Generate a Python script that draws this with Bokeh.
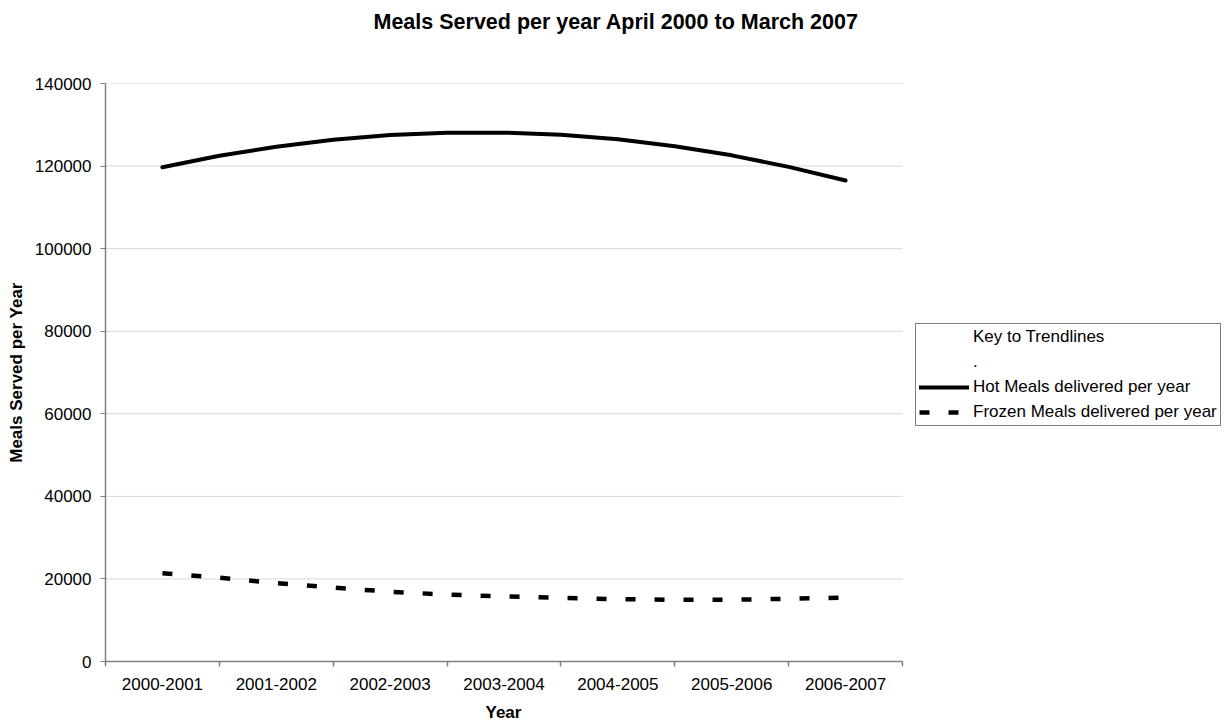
from bokeh.plotting import figure
from bokeh.models import (ColumnDataSource, FixedTicker, Legend, LegendItem, Range1d,
                          BasicTickFormatter, Title)
from bokeh.embed import file_html
from bokeh.resources import INLINE

# ---- data ----
years = ["2000-2001", "2001-2002", "2002-2003", "2003-2004", "2004-2005", "2005-2006", "2006-2007"]
trend_pos = [1.0, 1.5, 2.0, 2.5, 3.0, 3.5, 4.0, 4.5, 5.0, 5.5, 6.0, 6.5, 7.0]
hot_meals = [119700, 122500, 124700, 126400, 127500, 128100, 128100, 127600, 126500, 124800, 122600, 119800, 116500]
frozen_meals = [21400, 20300, 19000, 17900, 16900, 16200, 15750, 15400, 15100, 14950, 14950, 15200, 15450]
y_ticks = [0, 20000, 40000, 60000, 80000, 100000, 120000, 140000]

FONT = "Liberation Sans"

n = len(years)
x_lo, x_hi = 0.5, n + 0.5
# plot area spans 797 px for the 7 categories; frame extends to the right edge to host the key
x_end = x_lo + n * (1225 - 105) / 797

p = figure(width=1225, height=722, output_backend="svg", toolbar_location=None,
           x_range=Range1d(x_lo, x_end), y_range=Range1d(0, 140000),
           min_border_left=105, min_border_right=0, min_border_top=83, min_border_bottom=61,
           background_fill_color="white", border_fill_color="white", outline_line_color=None)

title = Title(text="Meals Served per year April 2000 to March 2007\n\n", align="left",
              offset=268, standoff=10, text_font=FONT, text_font_size="21.5px",
              text_line_height=0.93, text_font_style="bold", text_color="black")
p.add_layout(title, "above")

# x-axis title, positioned under the category span
xtitle = Title(text="\nYear", align="left", offset=380, standoff=0, text_font=FONT,
               text_font_size="17px", text_line_height=0.45, text_font_style="bold",
               text_color="black")
p.add_layout(xtitle, "below")

# horizontal gridlines limited to the category span
p.segment(x0=x_lo, x1=x_hi, y0=y_ticks, y1=y_ticks, line_color="#d9d9d9", line_width=1)

src = ColumnDataSource(dict(x=trend_pos, hot=hot_meals, frozen=frozen_meals))
r_hot = p.line("x", "hot", source=src, line_color="black", line_width=4, line_cap="round")
r_frozen = p.line("x", "frozen", source=src, line_color="black", line_width=4.5,
                  line_dash="10 19", line_cap="butt")

# invisible renderers for the text-only legend rows
r_key = p.line(x=[], y=[], line_alpha=0)
r_dot = p.line(x=[], y=[], line_alpha=0)

# axes
xa = p.xaxis[0]
xa.bounds = (x_lo, x_hi)
xa.ticker = FixedTicker(ticks=list(range(1, n + 1)),
                        minor_ticks=[i + 0.5 for i in range(0, n + 1)])
xa.major_label_overrides = {i + 1: y for i, y in enumerate(years)}
xa.major_tick_line_color = None
xa.major_tick_out = 5
xa.major_tick_in = 0
xa.minor_tick_line_color = "#808080"
xa.minor_tick_out = 5
xa.minor_tick_in = 0
xa.minor_tick_line_width = 1.5
xa.major_label_standoff = 11

ya = p.yaxis[0]
ya.ticker = FixedTicker(ticks=y_ticks)
ya.formatter = BasicTickFormatter(use_scientific=False)
ya.minor_tick_line_color = None
ya.major_tick_out = 5
ya.major_tick_in = 0
ya.major_tick_line_color = "#808080"
ya.major_label_standoff = 9
ya.axis_label = "Meals Served per Year"
ya.axis_label_standoff = 6

for ax in (xa, ya):
    ax.axis_line_color = "#808080"
    ax.axis_line_width = 1.5
    ax.major_label_text_font = FONT
    ax.major_label_text_font_size = "17px"
    ax.major_label_text_color = "black"
    ax.axis_label_text_font = FONT
    ax.axis_label_text_font_size = "17px"
    ax.axis_label_text_font_style = "bold"
    ax.axis_label_text_color = "black"

p.xgrid.grid_line_color = None
p.ygrid.grid_line_color = None

legend = Legend(items=[
    LegendItem(label="Key to Trendlines", renderers=[r_key]),
    LegendItem(label=".", renderers=[r_dot]),
    LegendItem(label="Hot Meals delivered per year", renderers=[r_hot]),
    LegendItem(label="Frozen Meals delivered per year", renderers=[r_frozen]),
], location=(810, 235))
legend.border_line_color = "black"
legend.border_line_width = 1
legend.background_fill_color = "white"
legend.background_fill_alpha = 1
legend.label_text_font = FONT
legend.label_text_font_size = "17px"
legend.label_text_color = "black"
legend.glyph_width = 50
legend.glyph_height = 20
legend.label_height = 20
legend.label_standoff = 4
legend.spacing = 5
legend.padding = 3
legend.margin = 0
p.add_layout(legend, "center")

open("out.html", "w").write(file_html(p, INLINE))
